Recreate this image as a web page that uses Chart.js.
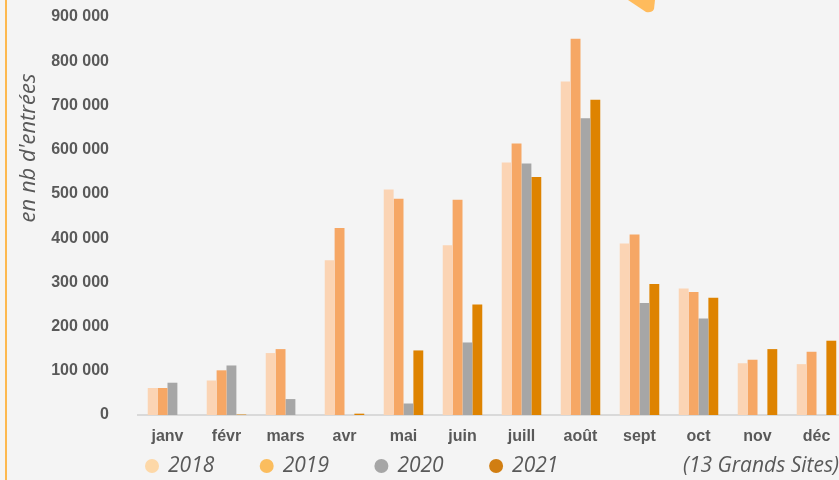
<!DOCTYPE html>
<html>
<head>
<meta charset="utf-8">
<script src="https://cdn.jsdelivr.net/npm/chart.js@4"></script>
<style>
  html, body { margin: 0; padding: 0; background: #f4f4f4; overflow: hidden; }
  #wrap { position: relative; width: 839px; height: 480px; overflow: hidden; }
  #chart { display: block; }
</style>
</head>
<body>
<div id="wrap"><canvas id="chart" width="846" height="480"></canvas></div>
<script>
// data
const months = ['janv', 'févr', 'mars', 'avr', 'mai', 'juin', 'juill', 'août', 'sept', 'oct', 'nov', 'déc'];
const years = ['2018', '2019', '2020', '2021'];

const data2018 = [61000, 78000, 140000, 350000, 510000, 384000, 571000, 754000, 388000, 286000, 117000, 115000];
const data2019 = [61000, 101000, 149000, 423000, 489000, 487000, 614000, 851000, 408000, 278000, 125000, 143000];
const data2020 = [73000, 112000, 36000, null, 26000, 164000, 569000, 671000, 253000, 218000, null, null];
const data2021 = [null, 1000, null, 3000, 146000, 250000, 538000, 713000, 296000, 265000, 149000, 168000];

const yTicks = [0, 100000, 200000, 300000, 400000, 500000, 600000, 700000, 800000, 900000];

const barColors = ['#fbd4b4', '#f6a765', '#a6a6a6', '#de8300'];
const legendColors = ['#fdd8a8', '#fbbd5e', '#a6a6a6', '#d17e12'];

const textGrey = '#595959';

//extra drawing: side line, arrow bit, y title, legend
const decorPlugin = {
  id: 'decor',
  afterDraw(chart) {
    const ctx = chart.ctx;
    const area = chart.chartArea;
    ctx.save();

    // orange line on the left
    ctx.fillStyle = '#fdb94f';
    ctx.fillRect(5, 0, 2, 480);

    // bit of arrow at the top
    ctx.fillStyle = '#ffbb5c';
    ctx.beginPath();
    ctx.moveTo(628, 0);
    ctx.lineTo(655, 0);
    ctx.lineTo(654, 9);
    ctx.quadraticCurveTo(652, 13, 646, 12);
    ctx.closePath();
    ctx.fill();

    // y title
    ctx.translate(29, 148);
    ctx.rotate(-Math.PI / 2);
    ctx.font = 'italic 22px "Open Sans"';
    ctx.fillStyle = textGrey;
    ctx.textAlign = 'center';
    ctx.textBaseline = 'middle';
    ctx.fillText("en nb d'entrées", 0, 0);
    ctx.setTransform(1, 0, 0, 1, 0, 0);

    // legend
    const ly = 466;
    ctx.font = 'italic 21px "Open Sans"';
    ctx.textAlign = 'left';
    chart.data.datasets.forEach((ds, i) => {
      const cx = area.left + 14 + i * 114.7;
      ctx.fillStyle = legendColors[i];
      ctx.beginPath();
      ctx.arc(cx, ly, 7, 0, Math.PI * 2);
      ctx.fill();
      ctx.fillStyle = textGrey;
      ctx.fillText(ds.label, cx + 16, ly);
    });
    ctx.textAlign = 'right';
    ctx.fillText('(13 Grands Sites)', 839, ly);
    ctx.restore();
  }
};

let visitsCanvas = document.getElementById('chart');

let visitsData = {
  labels: months,
  datasets: [data2018, data2019, data2020, data2021].map((d, i) => ({
    label: years[i],
    data: d,
    backgroundColor: barColors[i],
    borderWidth: 0,
    categoryPercentage: 0.67,
    barPercentage: 1.0
  }))
};

let visitsOptions = {
  responsive: false,
  animation: false,
  layout: {
    padding: { top: 17, left: 0, right: 0, bottom: 0 }
  },
  scales: {
    x: {
      grid: { display: false, drawTicks: false },
      border: { display: true, color: '#d9d9d9', width: 2 },
      ticks: {
        padding: 12,
        color: textGrey,
        font: { family: '"Liberation Sans", Arial', size: 16, weight: 'bold' }
      },
      afterFit(scale) {
        scale.height = 65;
        scale.paddingLeft = 0;
        scale.paddingRight = 0;
      }
    },
    y: {
      min: 0,
      max: 900000,
      grid: { display: false, drawTicks: false },
      border: { display: false },
      afterBuildTicks(scale) {
        scale.ticks = yTicks.map(v => ({ value: v }));
      },
      ticks: {
        padding: 29,
        color: textGrey,
        font: { family: '"Liberation Sans", Arial', size: 16, weight: 'bold' },
        callback: v => v.toLocaleString('fr-FR').replace(/\s/g, ' ')
      },
      afterFit(scale) {
        scale.width = 138;
        scale.paddingTop = 0;
        scale.paddingBottom = 0;
      }
    }
  },
  plugins: {
    legend: { display: false },
    tooltip: { enabled: false }
  }
};

let visitsChart = new Chart(visitsCanvas, {
  type: 'bar',
  data: visitsData,
  options: visitsOptions,
  plugins: [decorPlugin]
});
</script>
</body>
</html>
